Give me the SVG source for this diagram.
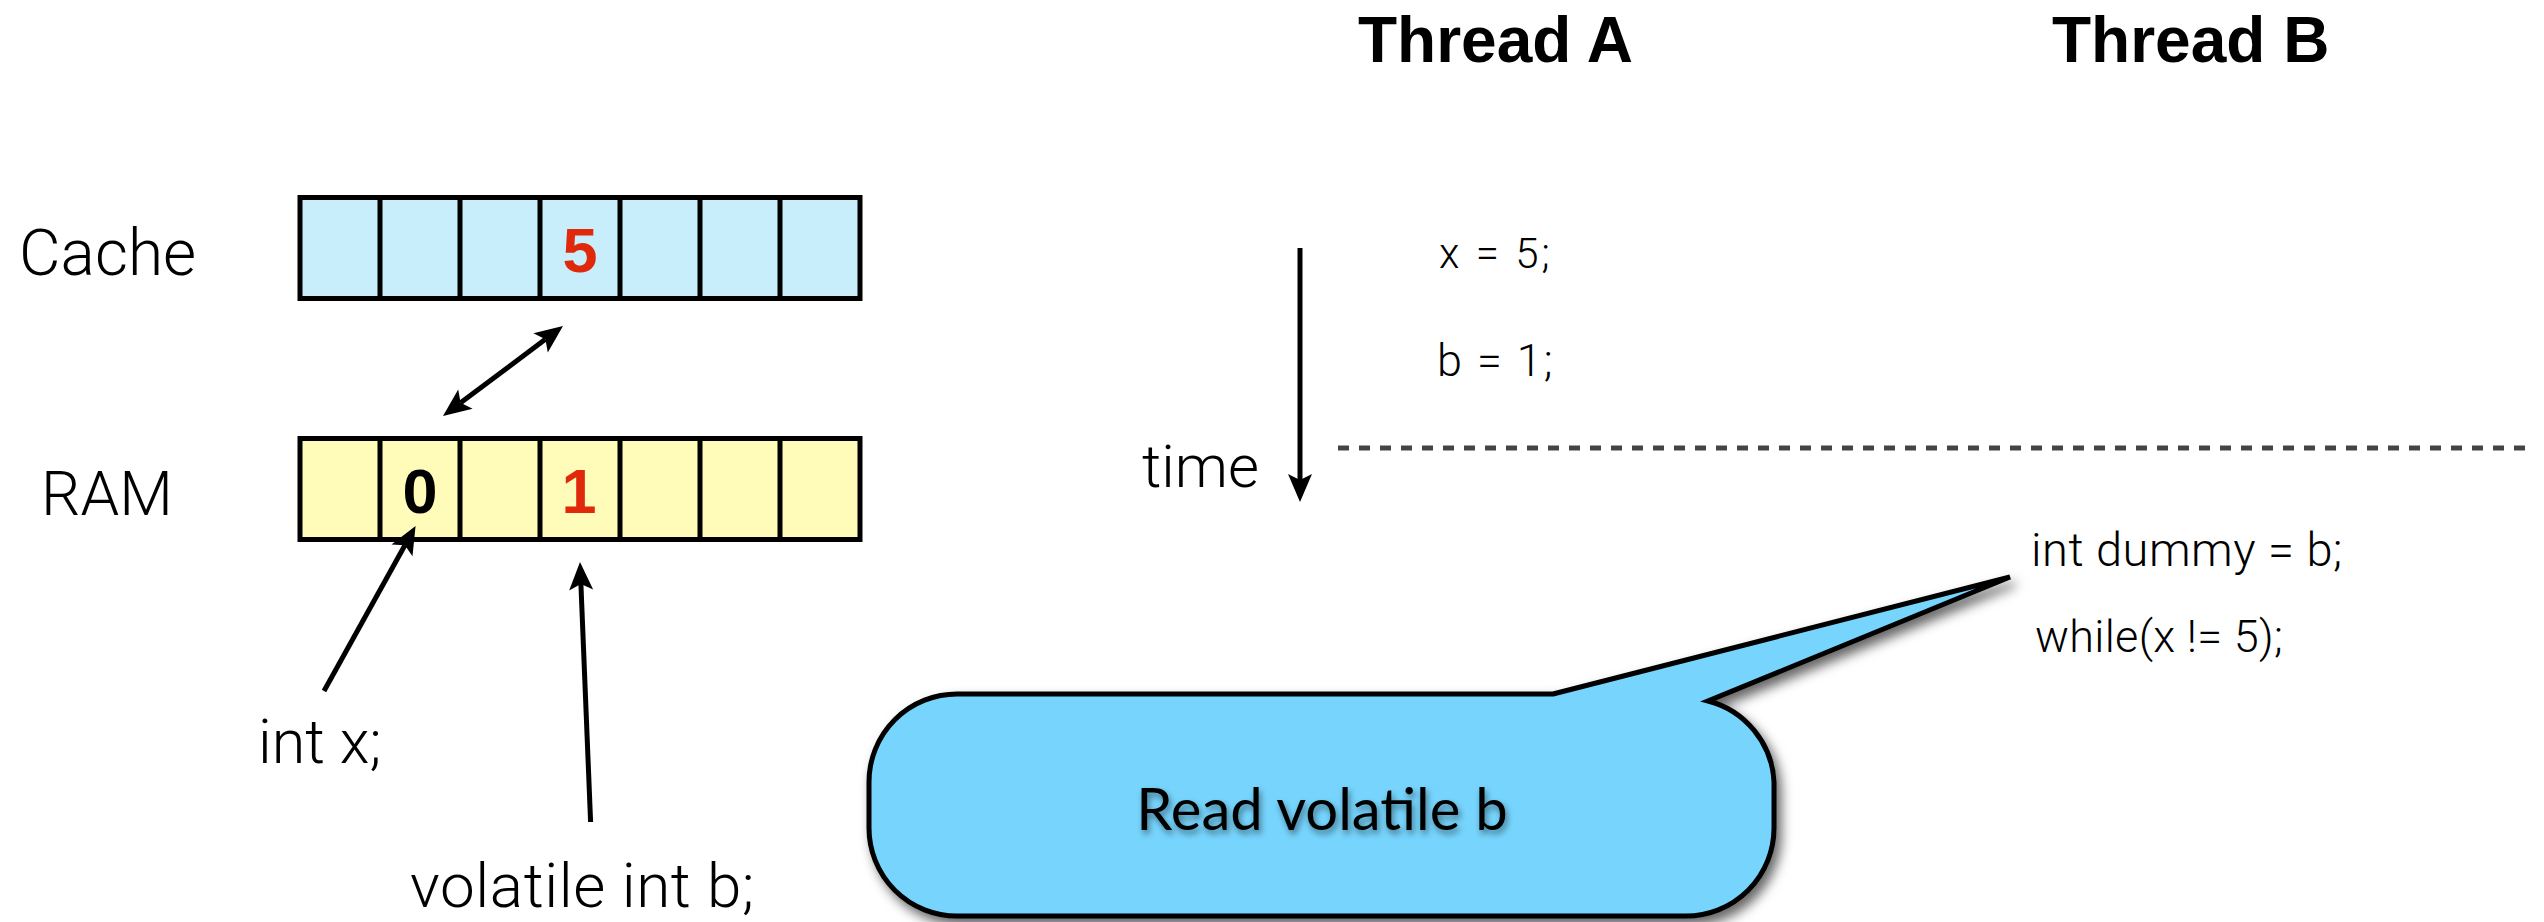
<svg xmlns="http://www.w3.org/2000/svg" width="2544" height="922" viewBox="0 0 2544 922">
  <style>
    .light { font-family: Roboto, "Liberation Sans", sans-serif; font-weight: 300; fill: #000; }
    .bold { font-family: "Liberation Sans", Arial, sans-serif; font-weight: bold; }
    .cell { stroke: #000; stroke-width: 5; }
    .wire { fill: none; stroke: #000; stroke-width: 5; }
    .red { fill: #e0280b; }
  </style>
  <defs>
    <marker id="head" markerUnits="userSpaceOnUse" markerWidth="60" markerHeight="60" refX="0" refY="0" viewBox="-30 -30 60 60" orient="auto-start-reverse" overflow="visible">
      <path d="M22,0 L-6,-12 L0,0 L-6,12 Z" fill="#000"/>
    </marker>
    <filter id="bubbleShadow" x="-10%" y="-20%" width="125%" height="150%">
      <feDropShadow dx="5" dy="7" stdDeviation="6" flood-color="#000" flood-opacity="0.6"/>
    </filter>
    <filter id="textShadow" x="-5%" y="-20%" width="110%" height="150%">
      <feDropShadow dx="2" dy="4" stdDeviation="3" flood-color="#000" flood-opacity="0.45"/>
    </filter>
  </defs>

  <!-- memory rows -->
  <g id="cache">
    <text class="light" x="19" y="275" font-size="64">Cache</text>
    <rect x="300" y="197.5" width="560" height="101" fill="#c9eefb" class="cell"/>
    <path class="cell" d="M380,197.5V298.5 M460,197.5V298.5 M540,197.5V298.5 M620,197.5V298.5 M700,197.5V298.5 M780,197.5V298.5"/>
    <text class="bold red" x="580" y="272" font-size="63" text-anchor="middle">5</text>
  </g>

  <g id="ram">
    <text class="light" x="41" y="515" font-size="62">RAM</text>
    <rect x="300" y="438.5" width="560" height="101" fill="#fffbb9" class="cell"/>
    <path class="cell" d="M380,438.5V539.5 M460,438.5V539.5 M540,438.5V539.5 M620,438.5V539.5 M700,438.5V539.5 M780,438.5V539.5"/>
    <text class="bold" x="420" y="513" font-size="63" text-anchor="middle">0</text>
    <text class="bold red" x="579" y="513" font-size="63" text-anchor="middle">1</text>
  </g>

  <g id="var-x">
    <text class="light" x="258" y="763" font-size="61">int x;</text>
  </g>

  <g id="var-b">
    <text class="light" x="410" y="907" font-size="62" letter-spacing="0.6">volatile int b;</text>
  </g>

  <!-- thread columns -->
  <g id="thread-a">
    <text class="bold" x="1358" y="62" font-size="64">Thread A</text>
    <text class="light" x="1439" y="268" font-size="42" letter-spacing="3">x = 5;</text>
    <text class="light" x="1437" y="376" font-size="45" letter-spacing="2">b = 1;</text>
  </g>

  <g id="thread-b">
    <text class="bold" x="2052" y="62" font-size="64">Thread B</text>
    <text class="light" x="2031" y="566" font-size="47" letter-spacing="0.5">int dummy = b;</text>
    <text class="light" x="2035" y="652" font-size="45" letter-spacing="0.3">while(x != 5);</text>
  </g>

  <g id="time">
    <text class="light" x="1142" y="487" font-size="60">time</text>
  </g>

  <!-- callout -->
  <g id="callout">
    <path d="M1553,694 L2010,577 L1708,701 A88,88 0 0 1 1774,782 L1774,828 A88,88 0 0 1 1686,916 L957,916 A88,88 0 0 1 869,828 L869,782 A88,88 0 0 1 957,694 Z"
          fill="#76d4fd" stroke="#000" stroke-width="5" stroke-linejoin="miter" filter="url(#bubbleShadow)"/>
    <text x="1322" y="830" font-family="Lato, 'Open Sans', sans-serif" font-size="58" text-anchor="middle" fill="#000" filter="url(#textShadow)">Read volatile b</text>
  </g>

  <!-- connectors -->
  <g id="connectors">
    <path class="wire" d="M460.6,402.8 L545.4,339.2" marker-start="url(#head)" marker-end="url(#head)"/>
    <path class="wire" d="M324,691 L404.9,545.2" marker-end="url(#head)"/>
    <path class="wire" d="M590.6,822 L580.9,584" marker-end="url(#head)"/>
    <path class="wire" d="M1300,248 L1300,480" marker-end="url(#head)"/>
    <path d="M1338,448 H2526" fill="none" stroke="#444" stroke-width="5" stroke-dasharray="11 10"/>
  </g>
</svg>
